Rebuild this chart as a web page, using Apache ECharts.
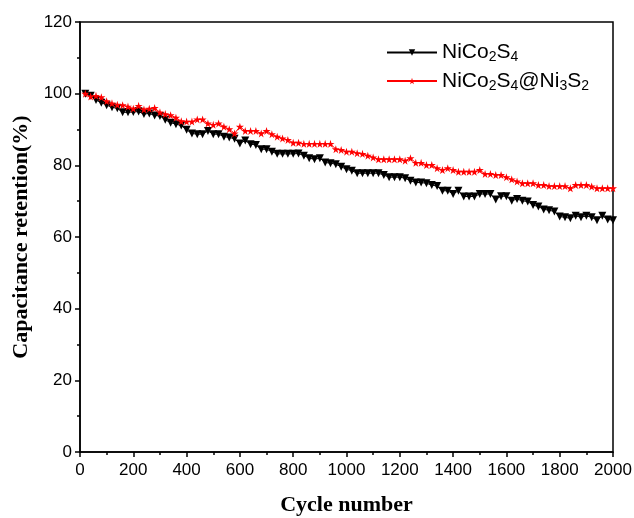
<!DOCTYPE html>
<html>
<head>
<meta charset="utf-8">
<script src="https://cdn.jsdelivr.net/npm/echarts@6/dist/echarts.min.js"></script>
<style>
  html, body { margin: 0; padding: 0; background: #fff; }
  #chart { width: 634px; height: 518px; }
</style>
</head>
<body>
<div id="chart"></div>
<script>
// cycle numbers (x)
var cycles = [20, 40, 60, 80, 100, 120, 140, 160, 180, 200,
  220, 240, 260, 280, 300, 320, 340, 360, 380, 400,
  420, 440, 460, 480, 500, 520, 540, 560, 580, 600,
  620, 640, 660, 680, 700, 720, 740, 760, 780, 800,
  820, 840, 860, 880, 900, 920, 940, 960, 980, 1000,
  1020, 1040, 1060, 1080, 1100, 1120, 1140, 1160, 1180, 1200,
  1220, 1240, 1260, 1280, 1300, 1320, 1340, 1360, 1380, 1400,
  1420, 1440, 1460, 1480, 1500, 1520, 1540, 1560, 1580, 1600,
  1620, 1640, 1660, 1680, 1700, 1720, 1740, 1760, 1780, 1800,
  1820, 1840, 1860, 1880, 1900, 1920, 1940, 1960, 1980, 2000];

// NiCo2S4 capacitance retention (%)
var nicoS = [100, 99.4, 98.2, 97.5, 96.8, 96.2, 95.9, 94.8, 94.8, 94.9,
  95.0, 94.3, 94.5, 93.9, 93.8, 92.7, 91.9, 91.5, 91.1, 89.9,
  88.9, 88.7, 88.7, 89.6, 88.7, 88.7, 88.0, 87.8, 87.4, 86.1,
  86.9, 85.9, 85.7, 84.5, 84.5, 83.8, 83.2, 83.2, 83.2, 83.2,
  83.3, 82.7, 82.0, 81.7, 82.0, 80.8, 80.6, 80.3, 79.6, 78.9,
  78.5, 77.8, 77.8, 77.8, 77.8, 77.8, 77.3, 76.7, 76.7, 76.7,
  76.4, 75.7, 75.2, 75.2, 75.0, 74.5, 74.2, 72.9, 72.9, 72.0,
  72.9, 71.3, 71.3, 71.3, 72.0, 72.0, 72.0, 70.5, 71.4, 71.4,
  70.1, 70.6, 70.1, 69.9, 68.9, 68.5, 67.7, 67.5, 67.1, 65.7,
  65.5, 65.2, 65.9, 65.5, 65.9, 65.5, 64.7, 65.9, 64.9, 64.7];

// NiCo2S4@Ni3S2 capacitance retention (%)
var nicoNi = [100, 99.2, 99.4, 99.0, 97.9, 97.3, 96.9, 96.8, 96.4, 95.8,
  96.6, 95.6, 95.8, 96.0, 94.8, 94.3, 94.0, 93.3, 92.3, 92.2,
  92.2, 92.8, 92.8, 91.7, 91.3, 91.7, 90.8, 90.1, 88.9, 90.8,
  89.6, 89.6, 89.6, 88.9, 89.6, 88.7, 88.0, 87.5, 87.1, 86.3,
  86.3, 86.0, 86.0, 86.0, 86.0, 86.0, 86.0, 84.5, 84.3, 83.8,
  83.8, 83.4, 83.2, 82.7, 82.2, 81.7, 81.7, 81.7, 81.7, 81.7,
  81.3, 82.0, 80.7, 80.7, 80.1, 80.1, 79.2, 78.7, 79.2, 78.7,
  78.2, 78.2, 78.2, 78.2, 78.7, 77.6, 77.6, 77.3, 77.3, 76.7,
  76.1, 75.5, 75.0, 75.0, 75.0, 74.5, 74.5, 74.2, 74.2, 74.2,
  74.2, 73.6, 74.5, 74.5, 74.5, 74.1, 73.6, 73.6, 73.6, 73.6];

var seriesNames = ['NiCo2S4', 'NiCo2S4@Ni3S2'];
var legendText = {
  'NiCo2S4': '{a|NiCo}{s|2}{a|S}{s|4}',
  'NiCo2S4@Ni3S2': '{a|NiCo}{s|2}{a|S}{s|4}{a|@Ni}{s|3}{a|S}{s|2}'
};

var starPath = 'path://M50,0 L61,35 L98,35 L68,57 L79,91 L50,70 L21,91 L32,57 L2,35 L39,35 Z';

function pairs(vals) {
  return cycles.map(function (c, i) { return [c, vals[i]]; });
}

var myChart = echarts.init(document.getElementById('chart'));

var axisFont = { color: '#000', fontSize: 17, fontFamily: 'Liberation Sans' };
var nameFont = { color: '#000', fontSize: 22, fontWeight: 'bold', fontFamily: 'Liberation Serif' };

myChart.setOption({
  animation: false,
  backgroundColor: '#fff',
  grid: {
    left: 80, right: 21, top: 22, bottom: 66,
    outerBoundsMode: 'none',
    containLabel: false,
    show: true, borderColor: '#000', borderWidth: 1.5
  },
  legend: {
    left: 381, top: 37,
    orient: 'vertical',
    itemWidth: 50, itemHeight: 8,
    itemGap: 6,
    data: seriesNames,
    formatter: function (name) { return legendText[name]; },
    textStyle: {
      rich: {
        a: { fontSize: 21, fontFamily: 'Liberation Sans', color: '#000', lineHeight: 24 },
        s: { fontSize: 14, fontFamily: 'Liberation Sans', color: '#000', lineHeight: 10, verticalAlign: 'bottom' }
      }
    }
  },
  xAxis: {
    type: 'value',
    min: 0, max: 2000, interval: 200,
    name: 'Cycle number',
    nameLocation: 'middle',
    nameGap: 42,
    nameTextStyle: nameFont,
    axisLine: { lineStyle: { color: '#000', width: 1.5 } },
    axisTick: { show: true, inside: false, length: 5, lineStyle: { color: '#000', width: 1.5 } },
    minorTick: { show: true, splitNumber: 2, length: 3, lineStyle: { color: '#000', width: 1.5 } },
    axisLabel: Object.assign({ margin: 10, formatter: function (v) { return String(v); } }, axisFont),
    splitLine: { show: false }
  },
  yAxis: {
    type: 'value',
    min: 0, max: 120, interval: 20,
    name: 'Capacitance retention(%)',
    nameLocation: 'middle',
    nameGap: 47,
    nameTextStyle: nameFont,
    axisLine: { show: true, lineStyle: { color: '#000', width: 1.5 } },
    axisTick: { show: true, inside: false, length: 5, lineStyle: { color: '#000', width: 1.5 } },
    minorTick: { show: true, splitNumber: 2, length: 3, lineStyle: { color: '#000', width: 1.5 } },
    axisLabel: Object.assign({ margin: 8 }, axisFont),
    splitLine: { show: false }
  },
  series: [{
    name: 'NiCo2S4',
    type: 'line',
    data: pairs(nicoS),
    symbol: 'triangle',
    symbolRotate: 180,
    symbolSize: 8,
    showAllSymbol: true,
    itemStyle: { color: '#000' },
    lineStyle: { color: '#000', width: 1 }
  }, {
    name: 'NiCo2S4@Ni3S2',
    type: 'line',
    data: pairs(nicoNi),
    symbol: starPath,
    symbolSize: 8,
    showAllSymbol: true,
    itemStyle: { color: '#ff0000' },
    lineStyle: { color: '#ff0000', width: 1 }
  }]
});
</script>
</body>
</html>
